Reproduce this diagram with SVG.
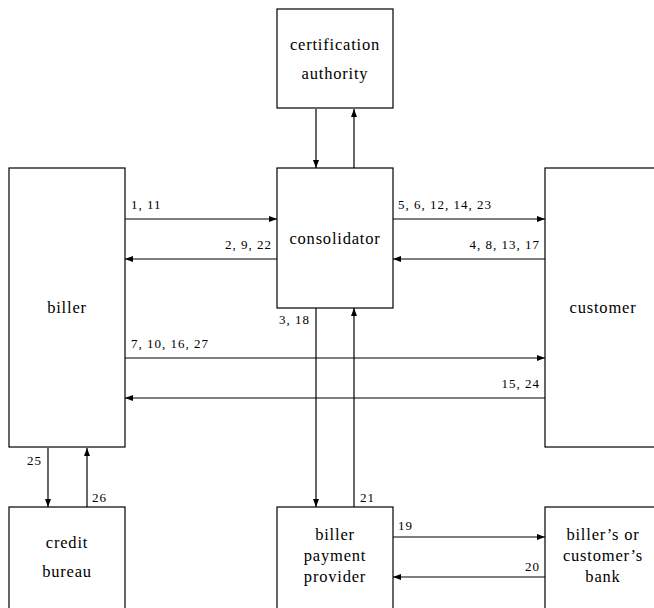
<svg xmlns="http://www.w3.org/2000/svg" width="654" height="608" viewBox="0 0 654 608">
<defs>
<marker id="ah" viewBox="0 0 8 6" refX="8" refY="3" markerWidth="8" markerHeight="6" markerUnits="userSpaceOnUse" orient="auto">
<path d="M0,0 L8,3 L0,6 Z" fill="#000"/>
</marker>
<style>
.box{fill:#fff;stroke:#000;stroke-width:1.2}
.lbl{font-size:16.5px;letter-spacing:0.8px;fill:#000;text-anchor:middle}
.num{font-size:13px;letter-spacing:1px;fill:#000}
.e{stroke:#000;stroke-width:1.2;fill:none;marker-end:url(#ah)}
</style>
</defs>
<rect width="654" height="608" fill="#fff"/>
<g id="connectors" font-family="'Liberation Serif', 'Times New Roman', serif">
<line class="e" x1="316" y1="109" x2="316" y2="168"/>
<line class="e" x1="354" y1="168" x2="354" y2="109"/>
<line class="e" x1="125" y1="219" x2="277" y2="219"/>
<line class="e" x1="277" y1="259" x2="125" y2="259"/>
<line class="e" x1="393" y1="219" x2="545" y2="219"/>
<line class="e" x1="545" y1="259" x2="393" y2="259"/>
<line class="e" x1="125" y1="358" x2="545" y2="358"/>
<line class="e" x1="545" y1="398" x2="125" y2="398"/>
<line class="e" x1="316" y1="308" x2="316" y2="507"/>
<line class="e" x1="354" y1="507" x2="354" y2="308"/>
<line class="e" x1="48" y1="448" x2="48" y2="507"/>
<line class="e" x1="87" y1="507" x2="87" y2="448"/>
<line class="e" x1="393" y1="537" x2="545" y2="537"/>
<line class="e" x1="545" y1="577" x2="393" y2="577"/>
<text class="num" x="131" y="209">1, 11</text>
<text class="num" x="272" y="249" text-anchor="end">2, 9, 22</text>
<text class="num" x="398" y="209">5, 6, 12, 14, 23</text>
<text class="num" x="540" y="249" text-anchor="end">4, 8, 13, 17</text>
<text class="num" x="279" y="324">3, 18</text>
<text class="num" x="131" y="348">7, 10, 16, 27</text>
<text class="num" x="540" y="388" text-anchor="end">15, 24</text>
<text class="num" x="27" y="465">25</text>
<text class="num" x="92" y="502">26</text>
<text class="num" x="360" y="502">21</text>
<text class="num" x="398" y="530">19</text>
<text class="num" x="540" y="571" text-anchor="end">20</text>
</g>
<g font-family="'Liberation Serif', 'Times New Roman', serif">
<g id="ca">
<rect class="box" x="277" y="9" width="116" height="99"/>
<text class="lbl" x="335" y="50">certification</text>
<text class="lbl" x="335" y="79">authority</text>
</g>
<g id="consolidator">
<rect class="box" x="277" y="168" width="116" height="140"/>
<text class="lbl" x="335" y="244">consolidator</text>
</g>
<g id="biller">
<rect class="box" x="9" y="168" width="116" height="279"/>
<text class="lbl" x="67" y="313">biller</text>
</g>
<g id="customer">
<rect class="box" x="545" y="168" width="116" height="279"/>
<text class="lbl" x="603" y="313">customer</text>
</g>
<g id="credit-bureau">
<rect class="box" x="9" y="507" width="116" height="110"/>
<text class="lbl" x="67" y="548">credit</text>
<text class="lbl" x="67" y="577">bureau</text>
</g>
<g id="bpp">
<rect class="box" x="277" y="507" width="116" height="110"/>
<text class="lbl" x="335" y="540">biller</text>
<text class="lbl" x="335" y="561">payment</text>
<text class="lbl" x="335" y="582">provider</text>
</g>
<g id="bank">
<rect class="box" x="545" y="507" width="116" height="110"/>
<text class="lbl" x="603" y="540">biller’s or</text>
<text class="lbl" x="603" y="561">customer’s</text>
<text class="lbl" x="603" y="582">bank</text>
</g>
</g>
</svg>
